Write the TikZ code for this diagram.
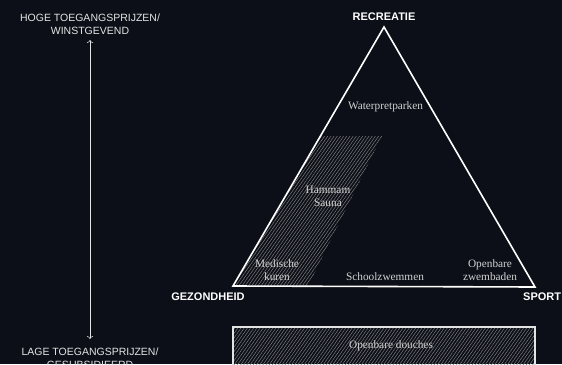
\documentclass[tikz,border=0pt]{standalone}
\usepackage{fontspec}
\setmainfont{Liberation Serif}
\setsansfont{Liberation Sans}
\usepackage{xcolor}
\usetikzlibrary{arrows.meta, positioning, calc, patterns.meta}
\definecolor{nightbg}{HTML}{0C0F17}
\definecolor{capsgrey}{HTML}{E4E4E4}
\definecolor{serifgrey}{HTML}{D2D2D2}
\definecolor{hatchgrey}{HTML}{7E7E7E}
\tikzset{
  capslabel/.style={text=capsgrey, font=\sffamily\fontsize{10.5}{12.5}\selectfont, align=center, inner sep=0pt},
  axislabel/.style={text=white, font=\sffamily\bfseries\fontsize{11}{13}\selectfont, inner sep=0pt},
  seriflabel/.style={text=serifgrey, font=\fontsize{11.3}{13}\selectfont, align=center, inner sep=0pt},
  hatchfill/.style={pattern={Lines[angle=55, distance=2.6pt, line width=0.5pt]}, pattern color=hatchgrey}
}

\begin{document}
\begin{tikzpicture}[x=1pt,y=-1pt]
  \fill[nightbg] (0,0) rectangle (562,364);
  \useasboundingbox (0,0) rectangle (562,364);
  % corners of the triangle
  \coordinate (rec) at (384,27);
  \coordinate (gez) at (233,286);
  \coordinate (spo) at (535,287);
  % hatched zones
  \fill[hatchfill] (gez) -- (320.5,136) -- (382,136) -- (308,286) -- cycle;
  \fill[hatchfill] (233,327) rectangle (535,372);
  \draw[capsgrey, line width=1.2pt] (233,327) rectangle (535,372);
  \draw[white, line width=1.6pt, line join=miter] (gez) -- (rec) -- (spo) -- cycle;
  \node[axislabel, anchor=south] (recreatie) at (384,21) {RECREATIE};
  \node[axislabel] (gezondheid) at (208,297) {GEZONDHEID};
  \node[axislabel, anchor=west] (sport) at (523,297) {SPORT};
  % price axis
  \node[capslabel] (hoog) at (90,24) {HOGE TOEGANGSPRIJZEN/\\WINSTGEVEND};
  \node[capslabel] (laag) at (90,358) {LAGE TOEGANGSPRIJZEN/\\GESUBSIDIEERD};
  \coordinate (top) at (90,40);
  \coordinate (bot) at (90,339);
  \draw[capsgrey, line width=0.6pt, <->] (top) -- (bot);
  % facilities
  \node[seriflabel] (water) at (385.5,107) {Waterpretparken};
  \node[seriflabel] (hammam) at (328,196) {Hammam\\Sauna};
  \node[seriflabel] (kuren) at (277,270) {Medische\\kuren};
  \node[seriflabel] (school) at (385,277) {Schoolzwemmen};
  \node[seriflabel] (zwem) at (490,270) {Openbare\\zwembaden};
  \node[seriflabel] (douche) at (391,346) {Openbare douches};
\end{tikzpicture}
\end{document}
